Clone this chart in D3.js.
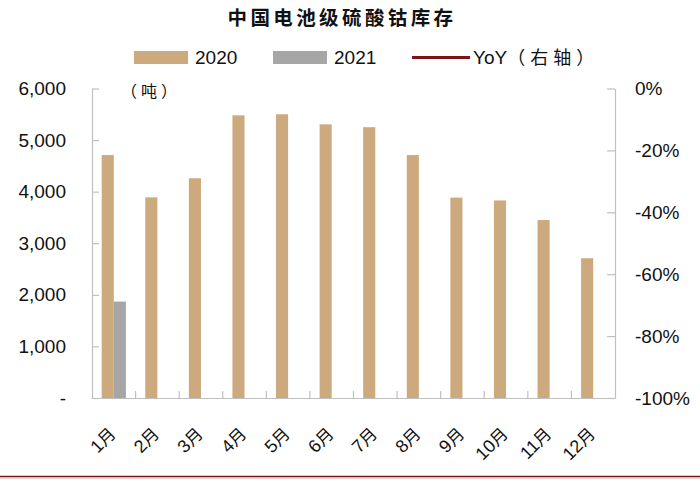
<!DOCTYPE html>
<html><head><meta charset="utf-8">
<script src="https://cdn.jsdelivr.net/npm/d3@7"></script>
<style>
body{margin:0;background:#fff;}
svg{display:block;}
</style></head>
<body>
<svg id="c" width="700" height="480"></svg>
<script>
const months = ["1月","2月","3月","4月","5月","6月","7月","8月","9月","10月","11月","12月"];
const series = ["2020","2021"];
const values2020 = [4710, 3890, 4260, 5480, 5500, 5305, 5250, 4710, 3885, 3830, 3450, 2710];
const values2021 = [1870, null, null, null, null, null, null, null, null, null, null, null];
const yoy = [null, null, null, null, null, null, null, null, null, null, null, null];
const leftTicks = [0, 1000, 2000, 3000, 4000, 5000, 6000];
const rightTicks = [0, -0.2, -0.4, -0.6, -0.8, -1.0];
const colors = {"2020":"#CDAA7D","2021":"#A6A6A6","YoY":"#7B1416"};

const svg = d3.select("#c");
const font = "'Liberation Sans', Arial, sans-serif";
const cjk = "'Noto Sans CJK SC', sans-serif";

const x = d3.scaleBand().domain(months).range([92, 615]).padding(0);
const x1 = d3.scaleBand().domain(series).range([0, x.bandwidth()]).paddingInner(0).paddingOuter(0.8);
const y = d3.scaleLinear().domain([0, 6000]).range([398, 88.5]);
const yR = d3.scaleLinear().domain([-1, 0]).range([398, 88.5]);

// Title
svg.append("text").attr("x", 342).attr("y", 25).attr("text-anchor","middle")
  .attr("font-family", cjk).attr("font-weight","bold").attr("font-size", 19.5)
  .attr("letter-spacing", 3.4).attr("fill","#111").text("中国电池级硫酸钴库存");

// Legend
const lg = svg.append("g");
lg.append("rect").attr("x",134).attr("y",51).attr("width",54).attr("height",13).attr("fill",colors["2020"]);
lg.append("text").attr("x",195).attr("y",64).attr("font-family",font).attr("font-size",19).attr("fill","#111").text("2020");
lg.append("rect").attr("x",273).attr("y",51).attr("width",54).attr("height",13).attr("fill",colors["2021"]);
lg.append("text").attr("x",334).attr("y",64).attr("font-family",font).attr("font-size",19).attr("fill","#111").text("2021");
lg.append("line").attr("x1",412).attr("x2",470).attr("y1",57.5).attr("y2",57.5).attr("stroke",colors["YoY"]).attr("stroke-width",3);
const yt = lg.append("text").attr("x",473).attr("y",64).attr("font-family",font).attr("font-size",19).attr("fill","#111");
yt.append("tspan").text("YoY");
yt.append("tspan").attr("font-family",cjk).attr("font-size",18).attr("letter-spacing",5).text("（右轴）");

// Bars
const data = months.map((m,i)=>({m, v:[{s:"2020",v:values2020[i]},{s:"2021",v:values2021[i]}]}));
const g = svg.append("g");
g.selectAll("g.grp").data(data).join("g").attr("class","grp")
  .attr("transform", d=>`translate(${x(d.m)},0)`)
  .selectAll("rect").data(d=>d.v.filter(e=>e.v!=null)).join("rect")
  .attr("x", d=>x1(d.s)).attr("width", x1.bandwidth())
  .attr("y", d=>y(d.v)).attr("height", d=>y(0)-y(d.v))
  .attr("fill", d=>colors[d.s]);

// YoY line (no data shown)
const line = d3.line().defined(d=>d!=null).x((d,i)=>x(months[i])+x.bandwidth()/2).y(d=>yR(d));
svg.append("path").datum(yoy).attr("d", line).attr("fill","none").attr("stroke",colors["YoY"]).attr("stroke-width",2.5);

const axisColor = "#BFBFBF";
// Left axis
const la = svg.append("g").attr("transform","translate(92,0)")
  .call(d3.axisLeft(y).tickValues(leftTicks).tickSizeInner(-7).tickSizeOuter(0).tickPadding(26)
    .tickFormat(d=> d===0 ? "-" : d3.format(",")(d)));
// Right axis
const ra = svg.append("g").attr("transform","translate(615,0)")
  .call(d3.axisRight(yR).tickValues(rightTicks).tickSizeInner(-8).tickSizeOuter(0).tickPadding(20)
    .tickFormat(d=> Math.round(d*100) + "%"));
[la, ra].forEach(a=>{
  a.selectAll("path,line").attr("stroke", axisColor).attr("stroke-width",1.2);
  a.selectAll("text").attr("font-family",font).attr("font-size",19).attr("fill","#111");
});

// Bottom axis
const ba = svg.append("g").attr("transform","translate(0,398)")
  .call(d3.axisBottom(x).tickSize(0).tickFormat(""));
ba.select(".domain").attr("stroke", axisColor).attr("stroke-width",1.2);
ba.selectAll(".tick").remove();
const bounds = months.map(m=>x(m)).concat([x.range()[1]]);
svg.append("g").selectAll("line").data(bounds.slice(1,-1)).join("line")
  .attr("x1", d=>d).attr("x2", d=>d).attr("y1",398).attr("y2",391)
  .attr("stroke", axisColor).attr("stroke-width",1.2);

// X labels
svg.append("g").selectAll("text").data(months).join("text")
  .attr("transform", d=>`translate(${x(d)+x.bandwidth()/2+3},435) rotate(-45)`)
  .attr("text-anchor","end").attr("font-family",font).attr("font-size",18).attr("fill","#111")
  .each(function(d){
    const t = d3.select(this);
    const num = d.replace("月","");
    t.append("tspan").text(num);
    t.append("tspan").attr("font-family",cjk).attr("font-size",17).text("月");
  });

// Unit label
svg.append("text").attr("x",121).attr("y",97).attr("font-family",cjk).attr("font-size",16)
  .attr("letter-spacing",4).attr("fill","#111").text("（吨）");

// Bottom rule
svg.append("line").attr("x1",0).attr("x2",700).attr("y1",476.5).attr("y2",476.5).attr("stroke","#6E1818").attr("stroke-width",1.6);
svg.append("line").attr("x1",0).attr("x2",700).attr("y1",478).attr("y2",478).attr("stroke","#D9A6A6").attr("stroke-width",1);
</script>
</body></html>
